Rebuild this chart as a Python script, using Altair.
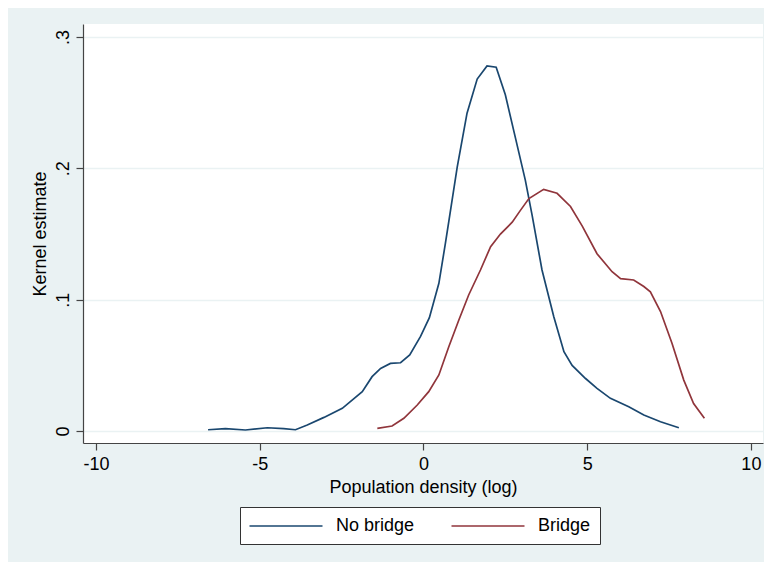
import altair as alt
import pandas as pd

# No bridge (blue) kernel density points
nb_x = [-6.58, -6.05, -5.44, -4.77, -4.27, -3.91, -3.55, -3.04, -2.48, -1.87,
        -1.57, -1.31, -1.01, -0.70, -0.42, -0.09, 0.18, 0.47, 0.67, 0.77,
        1.03, 1.33, 1.64, 1.94, 2.22, 2.50, 2.81, 3.11, 3.32, 3.62,
        3.98, 4.29, 4.54, 4.95, 5.30, 5.71, 6.27, 6.73, 7.24, 7.80]
nb_y = [0.0010, 0.0018, 0.0008, 0.0025, 0.0018, 0.0010, 0.0046, 0.0104, 0.0173, 0.0300,
        0.0414, 0.0477, 0.0515, 0.0520, 0.0579, 0.0720, 0.0863, 0.1125, 0.1430, 0.1590,
        0.2010, 0.2420, 0.2680, 0.2780, 0.2770, 0.2560, 0.2230, 0.1910, 0.1640, 0.1226,
        0.0870, 0.0604, 0.0500, 0.0400, 0.0325, 0.0249, 0.0185, 0.0122, 0.0071, 0.0025]

# Bridge (red) kernel density points
br_x = [-1.41, -0.96, -0.60, -0.19, 0.16, 0.47, 0.77, 1.08, 1.38, 1.74,
        2.05, 2.35, 2.71, 2.96, 3.22, 3.67, 4.08, 4.49, 4.85, 5.30,
        5.76, 6.02, 6.42, 6.73, 6.93, 7.24, 7.59, 7.95, 8.25, 8.58]
br_y = [0.0020, 0.0038, 0.0097, 0.0198, 0.0300, 0.0427, 0.0640, 0.0845, 0.1036, 0.1226,
        0.1404, 0.1500, 0.1590, 0.1680, 0.1770, 0.1840, 0.1810, 0.1710, 0.1560, 0.1350,
        0.1213, 0.1160, 0.1150, 0.1100, 0.1060, 0.0910, 0.0668, 0.0388, 0.0210, 0.0097]

groups = ["No bridge", "Bridge"]
colors = ["#1a476f", "#90353b"]
x_ticks = [-10, -5, 0, 5, 10]
y_ticks = [0, 0.1, 0.2, 0.3]

rows = []
for i, (xv, yv) in enumerate(zip(nb_x, nb_y)):
    rows.append({"x": xv, "y": yv, "group": groups[0], "order": i})
for i, (xv, yv) in enumerate(zip(br_x, br_y)):
    rows.append({"x": xv, "y": yv, "group": groups[1], "order": i})
df = pd.DataFrame(rows)

FONT = "Liberation Sans"

chart = alt.Chart(df).mark_line(strokeWidth=1.7).encode(
    x=alt.X("x:Q", title="Population density (log)",
            scale=alt.Scale(domain=[-10.4, 10.37], nice=False, zero=False),
            axis=alt.Axis(values=x_ticks, grid=False, tickSize=7, labelPadding=5,
                          titlePadding=5, labelExpr="datum.value + ''",
                          labelFlush=False)),
    y=alt.Y("y:Q", title="Kernel estimate",
            scale=alt.Scale(domain=[-0.0091, 0.3099], nice=False, zero=False),
            axis=alt.Axis(values=y_ticks, grid=True, tickSize=7, labelAngle=270,
                          labelAlign="center", labelBaseline="bottom",
                          labelPadding=4, titlePadding=5, labelFlush=False,
                          labelExpr="datum.value == 0 ? '0' : replace(format(datum.value, '.1f'), '0.', '.')")),
    color=alt.Color("group:N",
                    scale=alt.Scale(domain=groups, range=colors),
                    legend=alt.Legend(orient="none", legendX=157, legendY=483,
                                      direction="horizontal", title=None,
                                      fillColor="white", strokeColor="#333333",
                                      padding=9, symbolType="M-4,0H4",
                                      symbolSize=333, symbolStrokeWidth=1.5,
                                      symbolOffset=27,
                                      labelFontSize=18, labelFont=FONT,
                                      labelColor="black", labelOffset=40,
                                      columnPadding=33)),
    order="order:Q",
).properties(
    width=680,
    height=419,
    background="#eaf2f3",
    padding={"left": 75, "top": 16, "right": 1, "bottom": 119},
    autosize=alt.AutoSizeParams(type="none"),
).configure_view(
    fill="white", strokeWidth=0
).configure_axis(
    labelFont=FONT, titleFont=FONT, labelFontSize=18, titleFontSize=18,
    labelColor="black", titleColor="black", titleFontWeight="normal",
    domainColor="#444444", tickColor="#444444", domainWidth=1.2, tickWidth=1.2,
    gridColor="#eaf2f3", gridWidth=1.5
)

chart.save("out.html", embed_options={"renderer": "svg", "actions": False})
